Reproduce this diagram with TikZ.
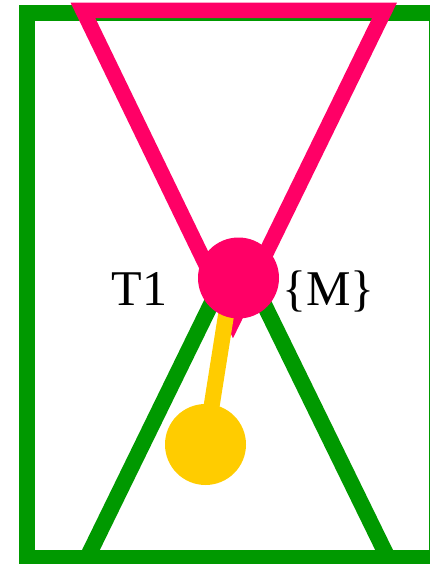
\documentclass[tikz,border=0pt]{standalone}
\usepackage{fontspec}
\setmainfont{Liberation Serif}
\usepackage{tikz}
\usetikzlibrary{positioning,calc}

\definecolor{leafgreen}{RGB}{0,153,0}
\definecolor{hotpink}{RGB}{255,0,102}
\definecolor{gold}{RGB}{255,204,0}

\tikzset{
  fat/.style={line width=16pt},
  dot/.style={circle, inner sep=0pt, minimum size=81pt},
  lbl/.style={anchor=base, font=\fontsize{50}{60}\selectfont}
}

\begin{document}
\begin{tikzpicture}[x=1pt,y=-1pt]
\useasboundingbox (0,0) rectangle (430,564);
\clip (0,0) rectangle (430,564);
% Frame
\draw[fat, leafgreen] (26.5,13) rectangle (437,558);
% Lower wedge
\coordinate (gl) at (87,558);
\coordinate (gr) at (388,558);
\coordinate (gtop) at (237.5,250);
\draw[fat, leafgreen] (gl) -- (gtop);
\draw[fat, leafgreen] (gr) -- (gtop);
% Upper wedge
\coordinate (pl) at (83,10.5);
\coordinate (pr) at (384.5,10.5);
\coordinate (ptip) at (233,320.5);
\draw[line width=15.5pt, hotpink] (pl) -- (pr) -- (ptip) -- cycle;
% Stem and tadpole
\coordinate (stem) at (230,290);
\node[dot, fill=gold] (tad) at (205.5,444.5) {};
\draw[fat, gold] (tad.center) -- (stem);
% Vertex
\node[dot, fill=hotpink] (vtx) at (238.5,278) {};
\node[lbl] (t1) at (139.5,305) {T1};
\node[lbl] (mm) at (328.5,305) {\{M\}};
\end{tikzpicture}
\end{document}
